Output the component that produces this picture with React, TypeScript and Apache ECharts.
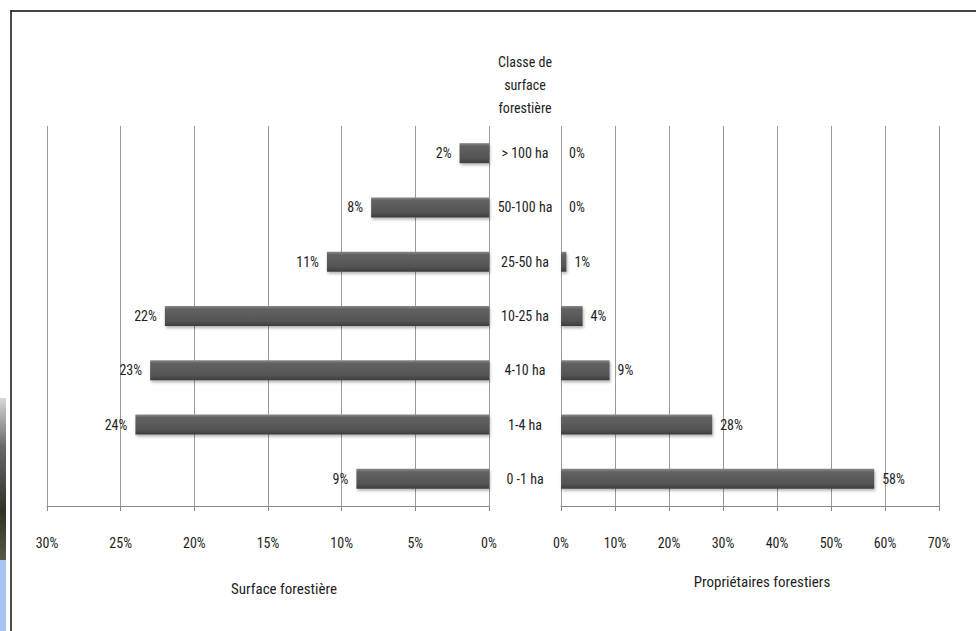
import React, { useEffect, useRef } from "react";
import * as echarts from "echarts";

const categories = ["0 -1 ha", "1-4 ha", "4-10 ha", "10-25 ha", "25-50 ha", "50-100 ha", "> 100 ha"];
const surfaceValues = [9, 24, 23, 22, 11, 8, 2];
const ownerValues = [58, 28, 9, 4, 1, 0, 0];
const leftTicks = { min: 0, max: 30, interval: 5 };
const rightTicks = { min: 0, max: 70, interval: 10 };
const titleText = "Classe de\nsurface\nforestière";
const leftName = "Surface forestière";
const rightName = "Propriétaires forestiers";

const FONT = "'Liberation Sans Narrow', 'Roboto Condensed', Roboto, sans-serif";
const TXT = "#1e1e1e";
const FS = 14;

export default function App() {
  const ref = useRef<HTMLDivElement>(null);
  useEffect(() => {
    if (!ref.current) return;
    const chart = echarts.init(ref.current, null, { renderer: "svg" });
    const barColor = new echarts.graphic.LinearGradient(0, 0, 0, 1, [
      { offset: 0, color: "#8a8a8a" },
      { offset: 0.15, color: "#626262" },
      { offset: 0.75, color: "#545454" },
      { offset: 1, color: "#3c3c3c" },
    ]);
    const gridLine = { show: true, lineStyle: { color: "#9a9a9a", width: 1 } };
    const axisLabel = {
      formatter: "{value}%",
      color: TXT,
      fontFamily: FONT,
      fontSize: FS,
      margin: 30,
    };
    const option: any = {
      animation: false,
      backgroundColor: "#fff",
      textStyle: { fontFamily: FONT },
      grid: [
        { left: 47, width: 442, top: 126, height: 380 },
        { left: 561, width: 378, top: 126, height: 380 },
      ],
      xAxis: [
        {
          type: "value",
          gridIndex: 0,
          inverse: true,
          ...leftTicks,
          splitLine: gridLine,
          axisLine: { show: true, lineStyle: { color: "#8a8a8a" } },
          axisTick: { show: true, length: 5, lineStyle: { color: "#8a8a8a" } },
          axisLabel,
        },
        {
          type: "value",
          gridIndex: 1,
          ...rightTicks,
          splitLine: gridLine,
          axisLine: { show: true, lineStyle: { color: "#8a8a8a" } },
          axisTick: { show: true, length: 5, lineStyle: { color: "#8a8a8a" } },
          axisLabel,
        },
      ],
      yAxis: [
        {
          type: "category",
          gridIndex: 0,
          data: categories,
          position: "right",
          axisLine: { show: false },
          axisTick: { show: false },
          axisLabel: { show: false },
        },
        {
          type: "category",
          gridIndex: 1,
          data: categories,
          position: "left",
          axisLine: { show: false },
          axisTick: { show: false },
          axisLabel: {
            show: true,
            align: "center",
            margin: 36,
            color: TXT,
            fontFamily: FONT,
            fontSize: FS,
          },
        },
      ],
      series: [
        {
          type: "bar",
          xAxisIndex: 0,
          yAxisIndex: 0,
          data: surfaceValues,
          barWidth: 20,
          itemStyle: {
            color: barColor,
            shadowColor: "rgba(0,0,0,0.3)",
            shadowBlur: 3,
            shadowOffsetY: 2,
            shadowOffsetX: 1,
          },
          label: {
            show: true,
            position: "left",
            distance: 8,
            formatter: "{c}%",
            color: TXT,
            fontFamily: FONT,
            fontSize: FS,
          },
        },
        {
          type: "bar",
          xAxisIndex: 1,
          yAxisIndex: 1,
          data: ownerValues,
          barWidth: 20,
          itemStyle: {
            color: barColor,
            shadowColor: "rgba(0,0,0,0.3)",
            shadowBlur: 3,
            shadowOffsetY: 2,
            shadowOffsetX: 1,
          },
          label: {
            show: true,
            position: "right",
            distance: 8,
            formatter: "{c}%",
            color: TXT,
            fontFamily: FONT,
            fontSize: FS,
          },
        },
      ],
      graphic: [
        { type: "line", shape: { x1: 11, y1: 11, x2: 976, y2: 11 }, style: { stroke: "#444", lineWidth: 2 } },
        { type: "line", shape: { x1: 11, y1: 10, x2: 11, y2: 631 }, style: { stroke: "#111", lineWidth: 1.5 } },
        {
          type: "rect",
          shape: { x: 0, y: 398, width: 6, height: 162 },
          style: {
            fill: new echarts.graphic.LinearGradient(0, 0, 0, 1, [
              { offset: 0, color: "#d8d8d8" },
              { offset: 0.3, color: "#6a6a6a" },
              { offset: 0.7, color: "#2e3326" },
              { offset: 1, color: "#555a48" },
            ]),
          },
        },
        { type: "rect", shape: { x: 0, y: 560, width: 6, height: 71 }, style: { fill: "#a9c3f2" } },
        {
          type: "text",
          x: 525,
          y: 50,
          style: {
            text: titleText,
            align: "center",
            verticalAlign: "top",
            lineHeight: 23,
            fontSize: FS,
            fontFamily: FONT,
            fill: TXT,
          },
        },
        {
          type: "text",
          x: 284,
          y: 589,
          style: { text: leftName, align: "center", verticalAlign: "middle", fontSize: 15, fontFamily: FONT, fill: TXT },
        },
        {
          type: "text",
          x: 762,
          y: 582,
          style: { text: rightName, align: "center", verticalAlign: "middle", fontSize: 15, fontFamily: FONT, fill: TXT },
        },
      ],
    };
    chart.setOption(option);
    return () => chart.dispose();
  }, []);
  return (
    <div
      ref={ref}
      style={{ position: "fixed", left: 0, top: 0, width: 976, height: 631, background: "#fff" }}
    />
  );
}
